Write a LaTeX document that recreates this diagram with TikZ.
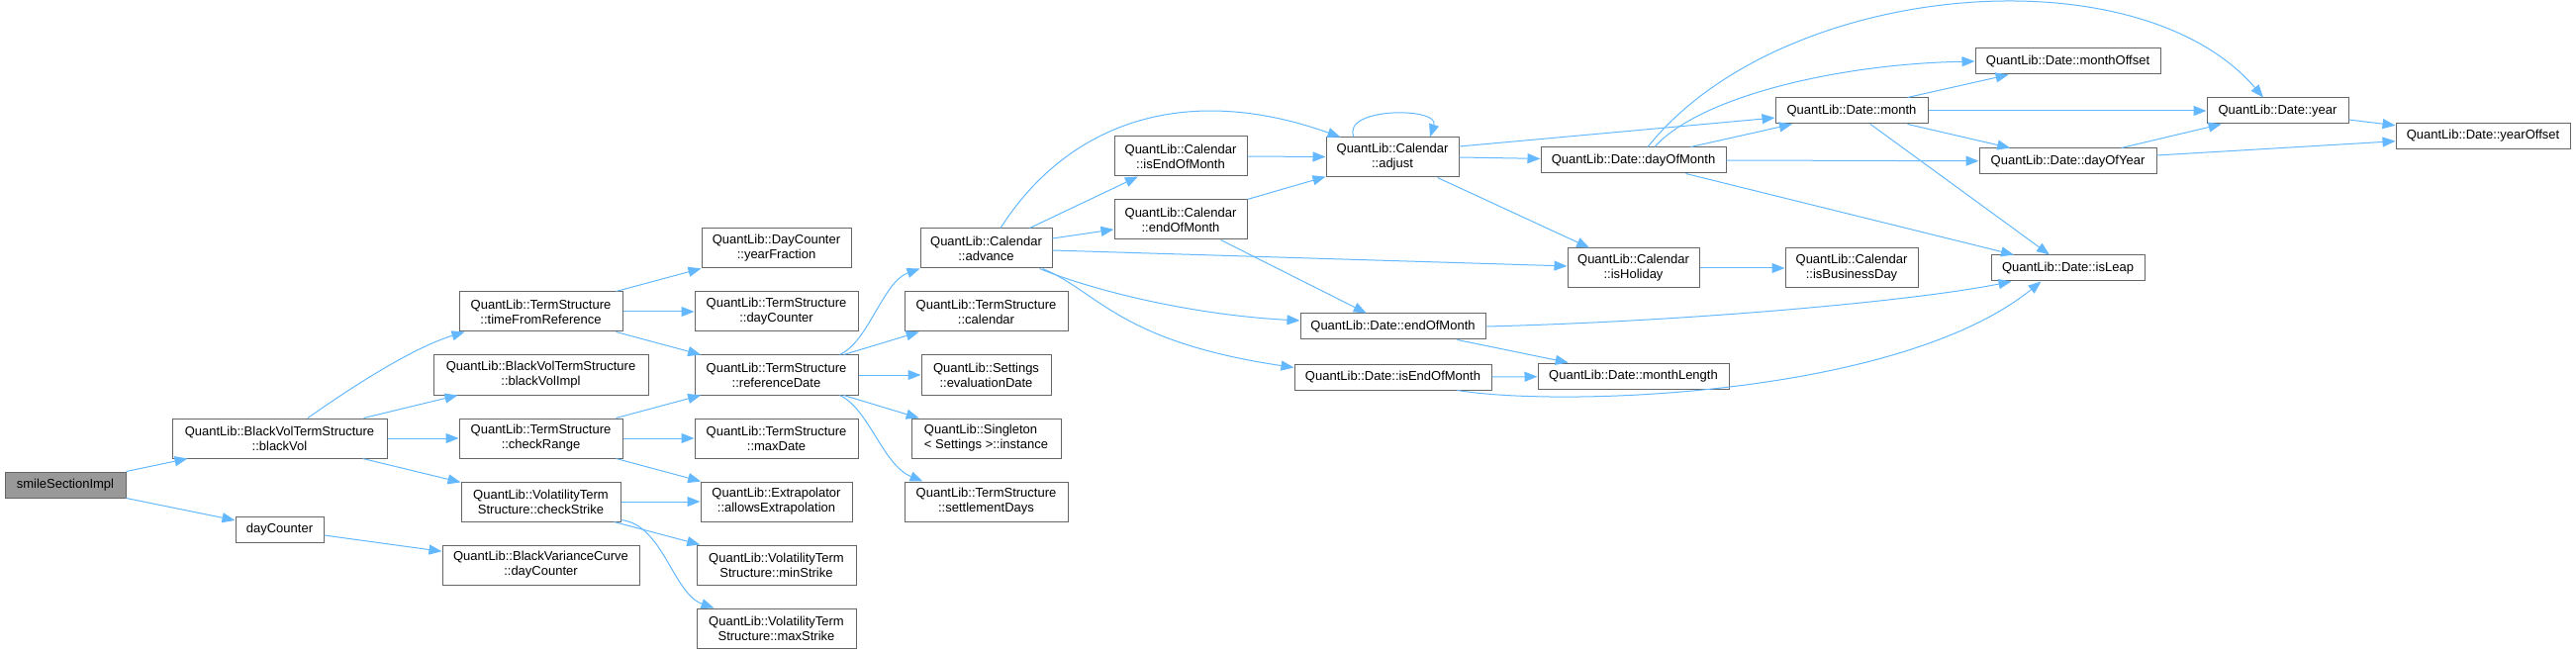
\documentclass[tikz,border=0pt]{standalone}
\usepackage{fontspec}
\setmainfont{Liberation Sans}
\usetikzlibrary{arrows.meta,calc}
\definecolor{edgec}{HTML}{63B8FF}
\definecolor{nodeb}{HTML}{666666}
\definecolor{rootf}{HTML}{999999}
\tikzset{
  fn/.style={draw=nodeb, line width=1pt, fill=white, rectangle, inner sep=0pt,
    align=center, font=\fontsize{13}{15}\selectfont, text=black},
  fn1/.style={fn, minimum height=26pt},
  fn2/.style={fn, minimum height=40pt},
  call/.style={draw=edgec, line width=1pt, -{Triangle[length=13pt,width=10pt]}},
}
\begin{document}
\begin{tikzpicture}[x=1pt,y=-1pt]
\useasboundingbox (0,0) rectangle (2603,660);
% nodes
\node[fn1, minimum width=122pt, fill=rootf] (root) at (66,490) {smileSectionImpl};
\node[fn2, minimum width=217pt] (bv) at (282.5,443) {QuantLib::BlackVolTermStructure\\::blackVol};
\node[fn1, minimum width=89pt] (dc) at (282.5,535) {dayCounter};
\node[fn2, minimum width=165pt] (tfr) at (546.5,315) {QuantLib::TermStructure\\::timeFromReference};
\node[fn2, minimum width=217pt] (bvi) at (546.5,379) {QuantLib::BlackVolTermStructure\\::blackVolImpl};
\node[fn2, minimum width=165pt] (cr) at (546.5,443) {QuantLib::TermStructure\\::checkRange};
\node[fn2, minimum width=161pt] (cs) at (546.5,507) {QuantLib::VolatilityTerm\\Structure::checkStrike};
\node[fn2, minimum width=199pt] (bvc) at (546.5,571) {QuantLib::BlackVarianceCurve\\::dayCounter};
\node[fn2, minimum width=151pt] (yf) at (784.5,251) {QuantLib::DayCounter\\::yearFraction};
\node[fn2, minimum width=165pt] (tsdc) at (784.5,315) {QuantLib::TermStructure\\::dayCounter};
\node[fn2, minimum width=165pt] (rd) at (784.5,379) {QuantLib::TermStructure\\::referenceDate};
\node[fn2, minimum width=165pt] (md) at (784.5,443) {QuantLib::TermStructure\\::maxDate};
\node[fn2, minimum width=153pt] (ae) at (784.5,507) {QuantLib::Extrapolator\\::allowsExtrapolation};
\node[fn2, minimum width=161pt] (mins) at (784.5,571) {QuantLib::VolatilityTerm\\Structure::minStrike};
\node[fn2, minimum width=161pt] (maxs) at (784.5,635) {QuantLib::VolatilityTerm\\Structure::maxStrike};
\node[fn2, minimum width=133pt] (adv) at (996.5,251) {QuantLib::Calendar\\::advance};
\node[fn2, minimum width=165pt] (cal) at (996.5,315) {QuantLib::TermStructure\\::calendar};
\node[fn2, minimum width=131pt] (ed) at (996.5,379) {QuantLib::Settings\\::evaluationDate};
\node[fn2, minimum width=151pt, align=left] (inst) at (996.5,443) {QuantLib::Singleton\\< Settings >::instance};
\node[fn2, minimum width=165pt] (sd) at (996.5,507) {QuantLib::TermStructure\\::settlementDays};
\node[fn2, minimum width=134pt] (ceom) at (1193,158) {QuantLib::Calendar\\::isEndOfMonth};
\node[fn2, minimum width=134pt] (cendm) at (1193,222) {QuantLib::Calendar\\::endOfMonth};
\node[fn2, minimum width=134pt] (adj) at (1407,159) {QuantLib::Calendar\\::adjust};
\node[fn1, minimum width=187pt] (dendm) at (1407.5,330) {QuantLib::Date::endOfMonth};
\node[fn1, minimum width=199pt] (dieom) at (1407.5,381) {QuantLib::Date::isEndOfMonth};
\node[fn1, minimum width=187pt] (dom) at (1650.5,162) {QuantLib::Date::dayOfMonth};
\node[fn2, minimum width=133pt] (hol) at (1650.5,271) {QuantLib::Calendar\\::isHoliday};
\node[fn1, minimum width=193pt] (ml) at (1650.5,380) {QuantLib::Date::monthLength};
\node[fn1, minimum width=154pt] (mon) at (1871,112) {QuantLib::Date::month};
\node[fn2, minimum width=134pt] (bd) at (1871,271) {QuantLib::Calendar\\::isBusinessDay};
\node[fn1, minimum width=187pt] (mo) at (2089.5,62) {QuantLib::Date::monthOffset};
\node[fn1, minimum width=179pt] (doy) at (2089.5,163) {QuantLib::Date::dayOfYear};
\node[fn1, minimum width=155pt] (leap) at (2089.5,271) {QuantLib::Date::isLeap};
\node[fn1, minimum width=143pt] (yr) at (2301.5,112) {QuantLib::Date::year};
\node[fn1, minimum width=176pt] (yo) at (2509,137.5) {QuantLib::Date::yearOffset};
% edges
\draw[call] (root.north east) -- ($(bv.south west)+(16,0)$);
\draw[call] (root.south east) -- (dc);
\draw[call] ($(bv.north)+(28.5,0)$) .. controls (350,395) and (415,352) .. ($(tfr.south west)+(6,0)$);
\draw[call] ($(bv.north east)+(-24,0)$) -- ($(bvi.south west)+(25,0)$);
\draw[call] (bv.east) -- (cr.west);
\draw[call] ($(bv.south east)+(-25,0)$) -- (cs);
\draw[call] ($(dc.east)+(0,6)$) -- (bvc);
\draw[call] ($(tfr.north east)+(-7,0)$) -- (yf);
\draw[call] (tfr.east) -- (tsdc.west);
\draw[call] ($(tfr.south east)+(-7,0)$) -- (rd);
\draw[call] ($(cr.north east)+(-7,0)$) -- (rd);
\draw[call] (cr.east) -- (md.west);
\draw[call] ($(cr.south east)+(-7,0)$) -- (ae);
\draw[call] (cs.east) -- (ae.west);
\draw[call] ($(cs.south east)+(-7,0)$) -- (mins);
\draw[call] ($(cs.south east)+(0,-2)$) .. controls (670,530) and (680,600) .. ($(maxs.north west)+(18,0)$);
\draw[call] ($(rd.north east)+(-19,0)$) .. controls (878,345) and (892,285) .. (adv.south west);
\draw[call] ($(rd.north east)+(-15,0)$) -- (cal);
\draw[call] (rd.east) -- (ed.west);
\draw[call] ($(rd.south east)+(-15,0)$) -- (inst);
\draw[call] ($(rd.south east)+(-19,0)$) .. controls (878,413) and (892,470) .. ($(sd.north west)+(19,0)$);
\draw[call] ($(adv.north)+(14.5,0)$) .. controls (1075,130) and (1190,80) .. ($(adj.north west)+(15,0)$);
\draw[call] ($(adv.north east)+(-23,0)$) -- (ceom);
\draw[call] ($(adv.east)+(0,-10)$) -- (cendm);
\draw[call] ($(adv.east)+(0,2)$) -- (hol);
\draw[call] ($(adv.south east)+(-13,0)$) .. controls (1100,292) and (1200,318) .. ($(dendm.west)+(0,-6)$);
\draw[call] ($(adv.south east)+(-10,0)$) .. controls (1110,295) and (1130,345) .. ($(dieom.north west)+(0,4)$);
\draw[call] (ceom.east) -- (adj);
\draw[call] (cendm.north east) -- (adj);
\draw[call] ($(cendm.south east)+(-27,0)$) -- (dendm);
\draw[call] ($(adj.north)+(-39,0)$) .. controls (1355,108) and (1455,108) .. ($(adj.north)+(38,0)$);
\draw[call] ($(adj.east)+(0,-11)$) -- (mon);
\draw[call] (adj.east) -- (dom);
\draw[call] ($(adj.south east)+(-22,0)$) -- (hol);
\draw[call] ($(dom.north)+(14.5,0)$) .. controls (1800,-20) and (2160,-50) .. ($(yr.north)+(-14.5,0)$);
\draw[call] ($(dom.north)+(21.5,0)$) .. controls (1715,100) and (1850,65) .. (mo.west);
\draw[call] ($(dom.north east)+(-36,0)$) -- (mon);
\draw[call] (dom.east) -- (doy);
\draw[call] ($(dom.south east)+(-41,0)$) -- (leap);
\draw[call] (hol.east) -- (bd.west);
\draw[call] ($(dendm.south east)+(-29,0)$) -- (ml);
\draw[call] (dendm.east) .. controls (1700,325) and (1930,305) .. ($(leap.south west)+(21,0)$);
\draw[call] (dieom.east) -- (ml);
\draw[call] ($(dieom.south east)+(-35,0)$) .. controls (1580,412) and (1920,400) .. ($(leap.south west)+(51,0)$);
\draw[call] ($(mon.north east)+(-21,0)$) -- (mo);
\draw[call] (mon.east) -- (yr.west);
\draw[call] ($(mon.south east)+(-21,0)$) -- (doy);
\draw[call] ($(mon.south)+(19,0)$) -- (leap);
\draw[call] ($(doy.north east)+(-36,0)$) -- (yr);
\draw[call] ($(doy.east)+(0,-6)$) -- (yo);
\draw[call] ($(yr.east)+(0,9)$) -- (yo);
\end{tikzpicture}
\end{document}
